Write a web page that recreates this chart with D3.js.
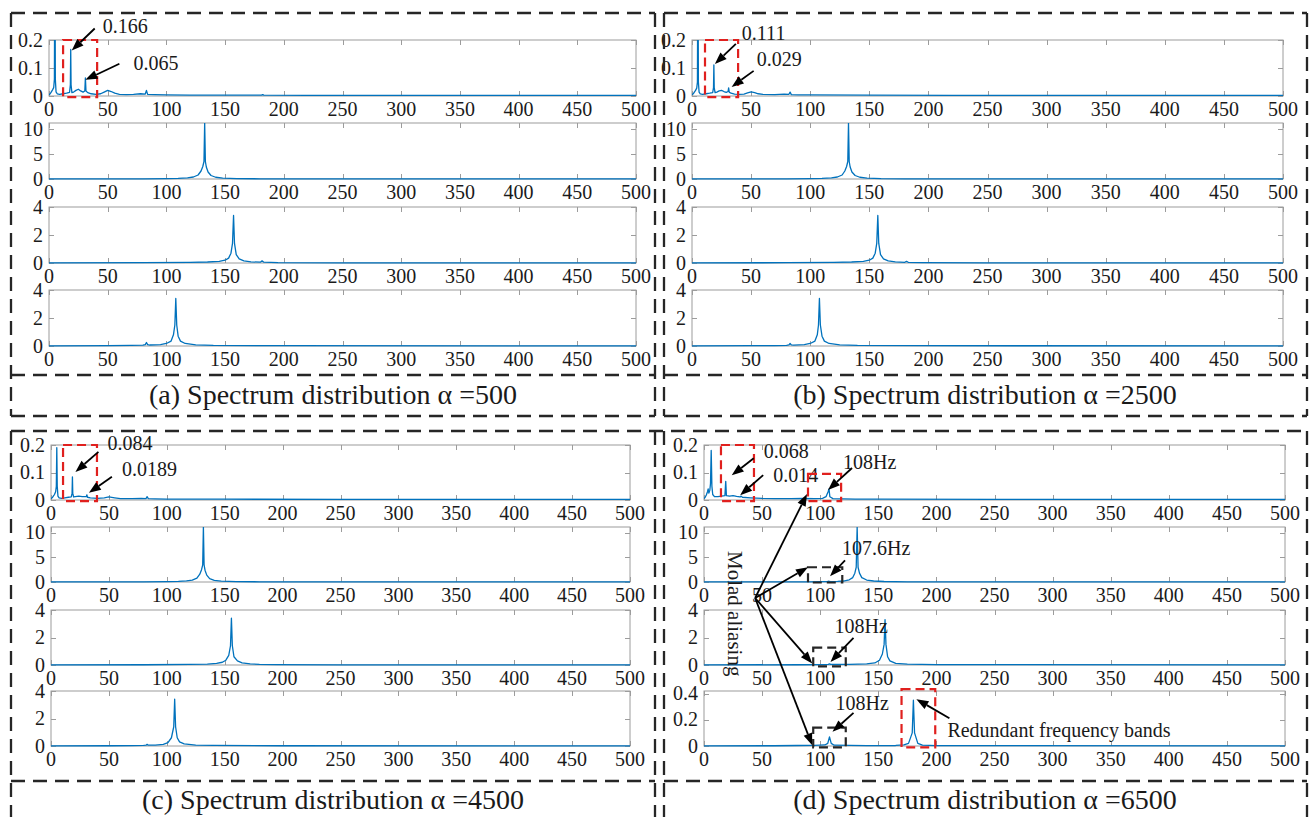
<!DOCTYPE html>
<html>
<head>
<meta charset="utf-8">
<script src="https://cdn.jsdelivr.net/npm/d3@7"></script>
<style>
  html, body { margin: 0; padding: 0; background: #fff; }
  svg { display: block; }
  text { font-family: "Liberation Serif", "Times New Roman", serif; fill: #1a1a1a; }
</style>
</head>
<body>
<svg id="chart" width="1314" height="817"></svg>
<script>
// ---------- axis ticks and captions ----------
const freqTicks = [0, 50, 100, 150, 200, 250, 300, 350, 400, 450, 500];
const ampTicksTop = [0, 0.1, 0.2];
const ampTicksMid = [0, 5, 10];
const ampTicksLow = [0, 2, 4];
const ampTicksBand = [0, 0.2, 0.4];
const captions = [
  "(a) Spectrum distribution α =500",
  "(b) Spectrum distribution α =2500",
  "(c) Spectrum distribution α =4500",
  "(d) Spectrum distribution α =6500"
];

// ---------- spectra: [frequency (Hz), amplitude] ----------
// alpha = 500
const specA1 = [[0,0.004],[1,0.008],[2,0.015],[3,0.022],[4,0.03],[4.6,0.06],[5,0.6],[5.4,0.06],[6,0.015],[7,0.008],[9,0.006],[12,0.008],[15,0.01],[17.5,0.013],[18.2,0.04],[18.5,0.166],[18.8,0.04],[19.5,0.012],[21,0.014],[23,0.02],[25,0.024],[27,0.018],[29,0.014],[30.5,0.018],[31,0.065],[31.5,0.018],[33,0.012],[36,0.008],[40,0.006],[44,0.008],[47,0.014],[50,0.02],[53,0.016],[56,0.01],[60,0.006],[66,0.005],[72,0.006],[78,0.008],[82,0.007],[83,0.02],[84,0.006],[90,0.005],[100,0.004],[120,0.003],[150,0.003],[181,0.003],[182,0.005],[183,0.003],[220,0.002],[300,0.002],[400,0.002],[500,0.002]];
const specA2 = [[0,0.01],[50,0.02],[80,0.04],[100,0.07],[110,0.12],[118,0.22],[123,0.4],[127,0.8],[129.5,1.6],[131,2.5],[132,3.5],[132.6,11.2],[133.2,3.5],[134,2.4],[135.5,1.4],[138,0.7],[142,0.35],[148,0.18],[160,0.08],[180,0.04],[250,0.02],[500,0.01]];
const specA3 = [[0,0.01],[80,0.02],[120,0.04],[135,0.07],[145,0.12],[150,0.2],[153,0.35],[155,0.7],[156.3,1.4],[157.2,3.4],[158,1.4],[159.5,0.6],[162,0.3],[166,0.15],[172,0.08],[180,0.06],[181.5,0.15],[183,0.06],[195,0.03],[250,0.015],[500,0.01]];
const specA4 = [[0,0.01],[50,0.02],[70,0.04],[80,0.06],[82,0.1],[83,0.25],[84,0.1],[86,0.07],[95,0.1],[100,0.18],[104,0.35],[106,0.8],[107.2,1.5],[108,3.4],[108.8,1.5],[110,0.7],[112,0.35],[116,0.18],[125,0.08],[140,0.04],[200,0.02],[500,0.01]];
// alpha = 2500
const specB1 = [[0,0.004],[1,0.008],[2,0.014],[3,0.02],[4,0.028],[4.6,0.05],[5,0.6],[5.4,0.05],[6,0.014],[7,0.008],[9,0.006],[12,0.008],[15,0.01],[17.5,0.012],[18.2,0.03],[18.5,0.111],[18.8,0.03],[19.5,0.012],[21,0.014],[23,0.018],[25,0.02],[27,0.016],[29,0.013],[30.5,0.016],[31,0.029],[31.5,0.014],[33,0.01],[36,0.007],[40,0.006],[44,0.007],[47,0.011],[50,0.015],[53,0.012],[56,0.008],[60,0.006],[70,0.005],[78,0.007],[82,0.006],[83,0.014],[84,0.005],[90,0.004],[100,0.004],[150,0.003],[220,0.002],[500,0.002]];
const specB2 = [[0,0.01],[50,0.02],[80,0.04],[100,0.07],[110,0.12],[118,0.22],[123,0.4],[127,0.8],[129.3,1.6],[130.8,2.5],[131.8,3.5],[132.4,11.2],[133,3.5],[133.8,2.4],[135.3,1.4],[138,0.7],[142,0.35],[148,0.18],[160,0.08],[180,0.04],[250,0.02],[500,0.01]];
const specB3 = [[0,0.01],[80,0.02],[120,0.04],[135,0.07],[145,0.12],[150,0.2],[153,0.35],[155,0.7],[156.3,1.4],[157.2,3.4],[158,1.4],[159.5,0.6],[162,0.3],[166,0.15],[172,0.08],[180,0.05],[181.5,0.12],[183,0.05],[195,0.03],[250,0.015],[500,0.01]];
const specB4 = [[0,0.01],[50,0.02],[70,0.03],[80,0.05],[82,0.08],[83,0.18],[84,0.08],[86,0.06],[95,0.1],[100,0.18],[104,0.35],[106,0.8],[107,1.5],[107.8,3.4],[108.6,1.5],[110,0.7],[112,0.35],[116,0.18],[125,0.08],[140,0.04],[200,0.02],[500,0.01]];
// alpha = 4500
const specC1 = [[0,0.005],[1,0.008],[2,0.014],[3,0.02],[4,0.03],[4.6,0.05],[5,0.19],[5.4,0.05],[6,0.014],[7,0.008],[9,0.006],[12,0.008],[15,0.01],[17.5,0.011],[18.2,0.025],[18.5,0.084],[18.8,0.025],[19.5,0.011],[21,0.012],[24,0.014],[27,0.012],[30.5,0.012],[31,0.0189],[31.5,0.01],[34,0.008],[40,0.006],[46,0.008],[50,0.011],[55,0.008],[60,0.005],[70,0.005],[78,0.006],[82,0.005],[83,0.012],[84,0.005],[90,0.004],[100,0.003],[150,0.003],[250,0.002],[500,0.002]];
const specC2 = [[0,0.01],[50,0.02],[80,0.04],[100,0.07],[110,0.12],[117,0.22],[122,0.4],[126,0.8],[128.5,1.6],[130,2.5],[131,3.5],[131.6,11.2],[132.2,3.5],[133,2.4],[134.5,1.4],[137,0.7],[141,0.35],[147,0.18],[160,0.08],[180,0.04],[250,0.02],[500,0.01]];
const specC3 = [[0,0.01],[80,0.02],[120,0.04],[135,0.07],[143,0.12],[148,0.2],[151,0.35],[153.5,0.7],[155,1.4],[155.8,3.4],[156.6,1.4],[158,0.6],[161,0.3],[165,0.15],[172,0.08],[180,0.05],[195,0.03],[250,0.015],[500,0.01]];
const specC4 = [[0,0.01],[50,0.02],[70,0.03],[80,0.04],[82,0.06],[83,0.12],[84,0.06],[90,0.07],[97,0.12],[101,0.25],[104,0.6],[106,1.4],[106.8,3.4],[107.6,1.4],[109,0.6],[111,0.3],[115,0.15],[125,0.07],[140,0.04],[200,0.02],[500,0.01]];
// alpha = 6500
const specD1 = [[0,0.005],[1,0.01],[2,0.018],[3,0.03],[3.6,0.04],[4.2,0.025],[5,0.035],[5.6,0.06],[6.2,0.18],[6.8,0.05],[7.5,0.02],[9,0.012],[12,0.012],[15,0.014],[18,0.016],[18.7,0.068],[19.3,0.016],[22,0.014],[25,0.016],[28,0.013],[31,0.011],[32,0.014],[33,0.01],[40,0.008],[50,0.006],[60,0.005],[75,0.005],[85,0.006],[95,0.005],[102,0.006],[105,0.012],[106.8,0.03],[107.6,0.04],[108.3,0.012],[111,0.005],[130,0.003],[150,0.003],[250,0.002],[500,0.002]];
const specD2 = [[0,0.01],[50,0.02],[90,0.04],[100,0.06],[106,0.08],[107.6,0.15],[109,0.08],[115,0.12],[120,0.2],[125,0.45],[128,0.9],[129.8,1.8],[131,3],[131.8,11.2],[132.6,3],[133.8,1.8],[135.8,0.9],[140,0.4],[146,0.2],[155,0.1],[175,0.04],[250,0.02],[500,0.01]];
const specD3 = [[0,0.01],[80,0.02],[100,0.03],[107,0.04],[108,0.08],[109,0.04],[125,0.05],[140,0.08],[147,0.15],[151,0.35],[153.5,0.8],[155,1.5],[155.8,3.3],[156.6,1.5],[158,0.6],[160,0.3],[165,0.12],[175,0.06],[200,0.03],[500,0.01]];
const specD4 = [[0,0.001],[60,0.002],[80,0.004],[95,0.005],[104,0.008],[106.5,0.02],[108,0.07],[109.5,0.02],[112,0.006],[140,0.003],[165,0.004],[172,0.008],[176,0.02],[179.2,0.1],[180.2,0.35],[181.2,0.1],[184,0.02],[188,0.006],[200,0.003],[500,0.001]];

// ---------- annotated peak values ----------
const peakLabelsA = [0.166, 0.065];
const peakLabelsB = [0.111, 0.029];
const peakLabelsC = [0.084, 0.0189];
const peakLabelsD = [0.068, 0.014];
const aliasLabels = ["108Hz", "107.6Hz", "108Hz", "108Hz"];

// ---------- layout ----------
const BLUE = "#0072BD";
const AXIS_GRAY = "#9c9c9c";
const svg = d3.select("#chart");
svg.append("rect").attr("width", 1314).attr("height", 817).attr("fill", "#fff");

const yDomainsDefault = [[0, 0.2], [0, 11.2], [0, 4], [0, 4]];
const yTicksDefault = [ampTicksTop, ampTicksMid, ampTicksLow, ampTicksLow];

const panels = [
  { spectra: [specA1, specA2, specA3, specA4], x0: 49,  x1: 636,  tops: [40, 123, 207, 290], h: 56, caption: captions[0], cx: 333, capY: 404 },
  { spectra: [specB1, specB2, specB3, specB4], x0: 692, x1: 1283, tops: [40, 123, 207, 290], h: 56, caption: captions[1], cx: 985, capY: 404 },
  { spectra: [specC1, specC2, specC3, specC4], x0: 51,  x1: 630,  tops: [445, 527, 610, 691], h: 55, caption: captions[2], cx: 333, capY: 809 },
  { spectra: [specD1, specD2, specD3, specD4], x0: 704, x1: 1285, tops: [445, 527, 610, 691], h: 55, caption: captions[3], cx: 985, capY: 809 }
];

const defs = svg.append("defs");
let clipId = 0;

function drawAxes(g, x, y, yTicks, data) {
  const [xa, xb] = x.range();
  const [yb, ya] = y.range();
  const id = "clip" + (clipId++);
  defs.append("clipPath").attr("id", id)
    .append("rect").attr("x", xa).attr("y", ya).attr("width", xb - xa).attr("height", yb - ya + 1);

  // box
  g.append("rect").attr("x", xa).attr("y", ya).attr("width", xb - xa).attr("height", yb - ya)
    .attr("fill", "none").attr("stroke", AXIS_GRAY).attr("stroke-width", 1);

  // inward ticks, mirrored on all sides
  const tk = 5;
  freqTicks.forEach(t => {
    const px = Math.round(x(t)) + 0.5;
    g.append("line").attr("x1", px).attr("x2", px).attr("y1", ya).attr("y2", ya + tk).attr("stroke", AXIS_GRAY);
    g.append("line").attr("x1", px).attr("x2", px).attr("y1", yb).attr("y2", yb - tk).attr("stroke", AXIS_GRAY);
    g.append("text").attr("x", x(t)).attr("y", yb + 20).attr("text-anchor", "middle")
      .attr("font-size", 20).text(t);
  });
  yTicks.forEach(t => {
    const py = Math.round(y(t)) + 0.5;
    g.append("line").attr("x1", xa).attr("x2", xa + tk).attr("y1", py).attr("y2", py).attr("stroke", AXIS_GRAY);
    g.append("line").attr("x1", xb).attr("x2", xb - tk).attr("y1", py).attr("y2", py).attr("stroke", AXIS_GRAY);
    g.append("text").attr("x", xa - 6).attr("y", y(t)).attr("dy", "0.33em").attr("text-anchor", "end")
      .attr("font-size", 20).text(t);
  });

  // spectrum
  const line = d3.line().x(d => x(d[0])).y(d => y(d[1]));
  g.append("path").datum(data).attr("clip-path", `url(#${id})`)
    .attr("d", line).attr("fill", "none").attr("stroke", BLUE).attr("stroke-width", 1.3)
    .attr("stroke-linejoin", "round");
}

// build all subplots
const axesByPanel = panels.map((p, pi) => {
  const g = svg.append("g");
  return p.spectra.map((data, si) => {
    let dom = yDomainsDefault[si];
    let ticks = yTicksDefault[si];
    if (pi === 3 && si === 3) { dom = [0, 0.42]; ticks = ampTicksBand; }
    const x = d3.scaleLinear().domain([0, 500]).range([p.x0, p.x1]);
    const y = d3.scaleLinear().domain(dom).range([p.tops[si] + p.h, p.tops[si]]);
    drawAxes(g, x, y, ticks, data);
    return { x, y };
  });
});

// ---------- dashed frames and captions ----------
const frameG = svg.append("g").attr("fill", "none").attr("stroke", "#262626")
  .attr("stroke-width", 2.3).attr("stroke-dasharray", "14,8");
function dashed(x1, y1, x2, y2) {
  frameG.append("line").attr("x1", x1).attr("y1", y1).attr("x2", x2).attr("y2", y2);
}
// upper row
dashed(11, 13, 655, 13); dashed(11, 13, 11, 416); dashed(655, 13, 655, 416); dashed(11, 416, 655, 416); dashed(11, 375, 655, 375);
dashed(664, 13, 1307, 13); dashed(664, 13, 664, 416); dashed(1307, 13, 1307, 416); dashed(664, 416, 1307, 416); dashed(664, 375, 1307, 375);
// lower row
dashed(11, 431, 1307, 431);
dashed(11, 431, 11, 830); dashed(655, 431, 655, 830); dashed(11, 781, 655, 781);
dashed(664, 431, 664, 830); dashed(1307, 431, 1307, 830); dashed(664, 781, 1307, 781);

panels.forEach(p => {
  svg.append("text").attr("x", p.cx).attr("y", p.capY).attr("text-anchor", "middle")
    .attr("font-size", 28).text(p.caption);
});

// ---------- annotations ----------
const annG = svg.append("g");
function arrow(x1, y1, x2, y2) {
  const ang = Math.atan2(y2 - y1, x2 - x1);
  const L = 12, W = 4.5;
  const bx = x2 - L * Math.cos(ang), by = y2 - L * Math.sin(ang);
  annG.append("line").attr("x1", x1).attr("y1", y1).attr("x2", bx).attr("y2", by)
    .attr("stroke", "#000").attr("stroke-width", 1.8);
  const px = -Math.sin(ang) * W, py = Math.cos(ang) * W;
  annG.append("path")
    .attr("d", `M${x2},${y2}L${bx + px},${by + py}L${bx - px},${by - py}Z`)
    .attr("fill", "#000");
}
function label(x, y, txt, size) {
  annG.append("text").attr("x", x).attr("y", y).attr("font-size", size || 20).text(txt);
}
// anchored callout: arrow tip near a data point, text offset in pixels
function callout(ax, f, a, txt, tip, tail, txtOff) {
  const X = ax.x(f), Y = ax.y(a);
  arrow(X + tail[0], Y + tail[1], X + tip[0], Y + tip[1]);
  label(X + txtOff[0], Y + txtOff[1], txt);
}
function box(ax, f0, f1, a0, a1, color, dash) {
  const r = { x: ax.x(f0), y: ax.y(a1), w: ax.x(f1) - ax.x(f0), h: ax.y(a0) - ax.y(a1) };
  annG.append("rect").attr("x", r.x).attr("y", r.y).attr("width", r.w).attr("height", r.h)
    .attr("fill", "none").attr("stroke", color).attr("stroke-width", 2.2)
    .attr("stroke-dasharray", dash);
  return r;
}
const RED = "#e0201e";

// (a)
box(axesByPanel[0][0], 12, 41, -0.004, 0.2, RED, "9,5");
callout(axesByPanel[0][0], 18.5, peakLabelsA[0], String(peakLabelsA[0]), [1, 1], [24, -21], [32, -17]);
callout(axesByPanel[0][0], 31, peakLabelsA[1], String(peakLabelsA[1]), [0, 2], [34, -14], [48, -8]);
// (b)
box(axesByPanel[1][0], 11, 39, -0.004, 0.2, RED, "9,5");
callout(axesByPanel[1][0], 18.5, peakLabelsB[0], String(peakLabelsB[0]), [1, -1], [22, -21], [28, -25]);
callout(axesByPanel[1][0], 31, peakLabelsB[1], String(peakLabelsB[1]), [3, -1], [25, -17], [28, -22]);
// (c)
box(axesByPanel[2][0], 10.4, 39.7, -0.004, 0.2, RED, "9,5");
callout(axesByPanel[2][0], 18.5, peakLabelsC[0], String(peakLabelsC[0]), [3, -5], [26, -25], [35, -27]);
callout(axesByPanel[2][0], 31, peakLabelsC[1], String(peakLabelsC[1]), [2, -2], [25, -18], [35, -19]);
// (d)
const dA = axesByPanel[3];
box(dA[0], 14.6, 43, -0.004, 0.2, RED, "9,5");
callout(dA[0], 18.7, peakLabelsD[0], String(peakLabelsD[0]), [6, -6], [28, -23], [38, -23]);
callout(dA[0], 32, peakLabelsD[1], String(peakLabelsD[1]), [-1, -1], [22, -21], [32, -14]);
const rb1 = box(dA[0], 89.5, 118, -0.004, 0.095, RED, "9,5");
callout(dA[0], 107.6, 0.04, aliasLabels[0], [-1, 1], [23, -21], [14, -20]);
const bb2 = box(dA[1], 89.5, 119, -0.1, 3, "#262626", "9,5");
callout(dA[1], 107.6, 0.15, aliasLabels[1], [1, -5], [16, -21], [13, -26]);
const bb3 = box(dA[2], 94, 122, -0.1, 1.26, "#262626", "9,5");
callout(dA[2], 108, 0.08, aliasLabels[2], [1, -2], [24, -26], [5, -31]);
const bb4 = box(dA[3], 94, 122, -0.01, 0.14, "#262626", "9,5");
callout(dA[3], 108, 0.07, aliasLabels[3], [3, -5], [24, -24], [6, -27]);
box(dA[3], 170, 199, -0.01, 0.435, RED, "9,5");
callout(dA[3], 180.2, 0.35, "Redundant frequency bands", [3, -1], [36, 18], [34, 37]);

// mode aliasing arrows fanning out from one point
const ox = dA[1].x(44), oy = 598;
arrow(ox, oy, rb1.x - 1, rb1.y + rb1.h - 7);
arrow(ox, oy, bb2.x, bb2.y);
arrow(ox, oy, bb3.x - 1, bb3.y + bb3.h - 3);
arrow(ox, oy, bb4.x - 1, bb4.y + bb4.h - 2);
annG.append("text")
  .attr("transform", `translate(${dA[1].x(21)},551) rotate(90)`)
  .attr("font-size", 21).text("Molad aliasing");
</script>
</body>
</html>
